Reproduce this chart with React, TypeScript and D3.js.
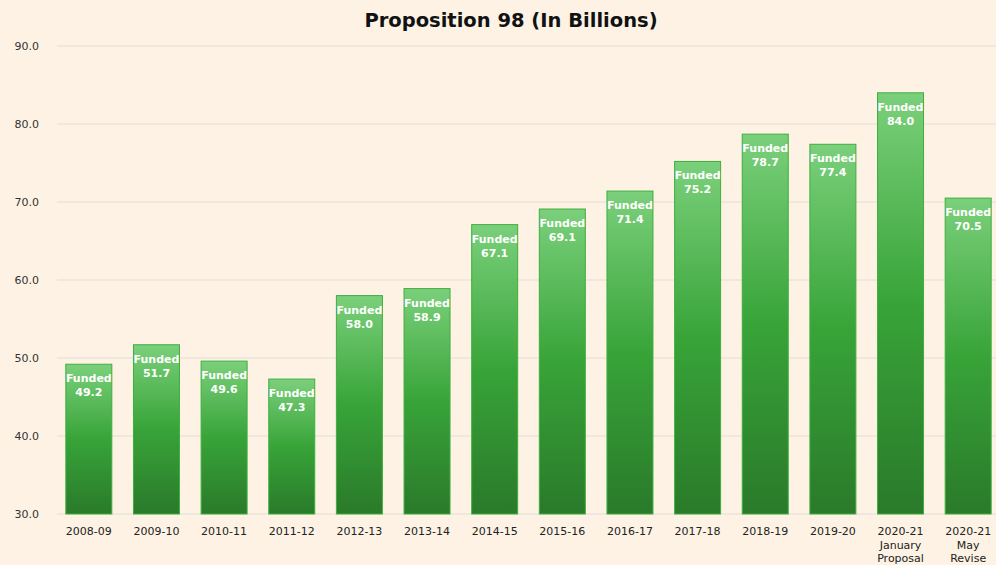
import { useRef, useEffect } from "react";
import * as d3 from "d3";

const categories = [
  "2008-09", "2009-10", "2010-11", "2011-12", "2012-13", "2013-14", "2014-15",
  "2015-16", "2016-17", "2017-18", "2018-19", "2019-20",
  "2020-21\nJanuary\nProposal", "2020-21\nMay\nRevise",
];
const funded = [49.2, 51.7, 49.6, 47.3, 58.0, 58.9, 67.1, 69.1, 71.4, 75.2, 78.7, 77.4, 84.0, 70.5];
const yTicks = [30, 40, 50, 60, 70, 80, 90];

export default function App() {
  const ref = useRef<SVGSVGElement | null>(null);

  useEffect(() => {
    if (!ref.current) return;
    const W = 996, H = 565;
    const svg = d3.select(ref.current);
    svg.selectAll("*").remove();
    svg.attr("width", W).attr("height", H);

    svg.append("rect").attr("width", W).attr("height", H).attr("fill", "#fdf2e4");

    const defs = svg.append("defs");
    const grad = defs.append("linearGradient").attr("id", "barGrad")
      .attr("x1", 0).attr("y1", 0).attr("x2", 0).attr("y2", 1);
    grad.append("stop").attr("offset", "0%").attr("stop-color", "#7bd07b");
    grad.append("stop").attr("offset", "50%").attr("stop-color", "#38a438");
    grad.append("stop").attr("offset", "100%").attr("stop-color", "#2a7a2a");

    const x = d3.scaleBand<string>().domain(categories).range([55, 1002]).paddingInner(0.32).paddingOuter(0.16);
    const y = d3.scaleLinear().domain([30, 90]).range([514, 46]);

    svg.append("text")
      .attr("x", 511).attr("y", 27).attr("text-anchor", "middle")
      .attr("font-family", "'DejaVu Sans', sans-serif").attr("font-weight", "bold")
      .attr("font-size", 19.5).attr("fill", "#111")
      .text("Proposition 98 (In Billions)");

    svg.append("g").selectAll("line").data(yTicks).join("line")
      .attr("x1", 57).attr("x2", W).attr("y1", (d) => y(d)).attr("y2", (d) => y(d))
      .attr("stroke", "#e2ded8").attr("stroke-width", 1);

    svg.append("g").selectAll("text").data(yTicks).join("text")
      .attr("x", 39).attr("y", (d) => y(d) + 4).attr("text-anchor", "end")
      .attr("font-family", "'DejaVu Sans', sans-serif").attr("font-size", 11).attr("fill", "#333")
      .text((d) => d.toFixed(1));

    svg.append("g").selectAll("rect").data(funded).join("rect")
      .attr("x", (_, i) => x(categories[i])!)
      .attr("y", (d) => y(d))
      .attr("width", x.bandwidth())
      .attr("height", (d) => y(30) - y(d))
      .attr("fill", "url(#barGrad)")
      .attr("stroke", "#3fae3f").attr("stroke-width", 1);

    const lbl = svg.append("g").attr("font-family", "'DejaVu Sans', sans-serif")
      .attr("font-weight", "bold").attr("font-size", 11).attr("fill", "#fff").attr("text-anchor", "middle");
    funded.forEach((v, i) => {
      const cx = x(categories[i])! + x.bandwidth() / 2;
      lbl.append("text").attr("x", cx).attr("y", y(v) + 18).text("Funded");
      lbl.append("text").attr("x", cx).attr("y", y(v) + 32).text(v.toFixed(1));
    });

    const xl = svg.append("g").attr("font-family", "'DejaVu Sans', sans-serif")
      .attr("font-size", 11).attr("fill", "#222").attr("text-anchor", "middle");
    categories.forEach((c) => {
      const cx = x(c)! + x.bandwidth() / 2;
      c.split("\n").forEach((line, j) => {
        xl.append("text").attr("x", cx).attr("y", 535 + j * 13.5).text(line);
      });
    });
  }, []);

  return <svg ref={ref} style={{ display: "block", position: "absolute", left: 0, top: 0 }} />;
}
